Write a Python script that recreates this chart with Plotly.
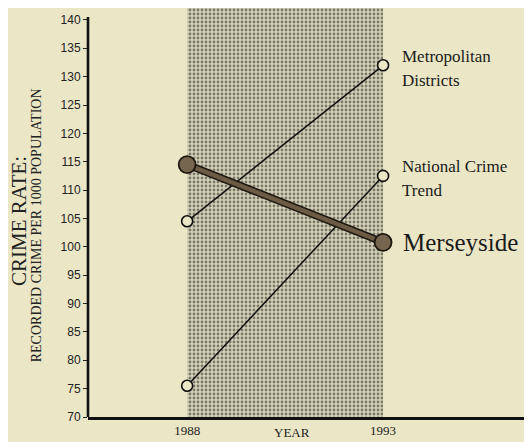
import plotly.graph_objects as go

# ---- data ----
years = [1988, 1993]
metropolitan = [104.5, 132.0]
national = [75.5, 112.5]
merseyside = [114.5, 100.8]
y_ticks = list(range(70, 141, 5))
x_tick_labels = ["1988", "1993"]

BG = "#ebe7c6"
SERIF = "Liberation Serif, Times New Roman, serif"
SANS = "Liberation Sans, Arial, sans-serif"

Y_MIN, Y_MAX = 70, 142.1
X_MIN, X_MAX = 1985.47, 1996.8

fig = go.Figure()

# shaded period band
fig.add_trace(go.Scatter(
    x=[years[0], years[1], years[1], years[0], years[0]],
    y=[Y_MIN, Y_MIN, Y_MAX, Y_MAX, Y_MIN],
    mode="lines", fill="toself", line=dict(width=0),
    fillcolor="#c4c0a8",
    fillpattern=dict(shape=".", size=4, solidity=0.4,
                     fgcolor="#7a7869", bgcolor="#d6d2b9", fillmode="replace"),
    hoverinfo="skip", showlegend=False))

thin = dict(color="#111111", width=1.5)
hollow = dict(size=11, color=BG, line=dict(color="#111111", width=1.6))

fig.add_trace(go.Scatter(x=years, y=metropolitan, mode="lines+markers",
                         line=thin, marker=hollow, showlegend=False,
                         name="Metropolitan Districts"))
fig.add_trace(go.Scatter(x=years, y=national, mode="lines+markers",
                         line=thin, marker=hollow, showlegend=False,
                         name="National Crime Trend"))
# Merseyside: dark outline under a taupe line
fig.add_trace(go.Scatter(x=years, y=merseyside, mode="lines",
                         line=dict(color="#1e1810", width=7.5),
                         showlegend=False, hoverinfo="skip"))
fig.add_trace(go.Scatter(x=years, y=merseyside, mode="lines+markers",
                         line=dict(color="#6c5c46", width=4.5),
                         marker=dict(size=17, color="#76664f",
                                     line=dict(color="#1e1810", width=1.8)),
                         showlegend=False, name="Merseyside"))

# y axis line
fig.add_shape(type="line", xref="paper", yref="y", x0=0, x1=0,
              y0=Y_MIN, y1=140.5, line=dict(color="#111111", width=2.6))

ann = []
lab_font = dict(family=SERIF, size=17, color="#1a1a1a")
ann += [
    dict(x=years[1], y=metropolitan[1], text="Metropolitan", xshift=17, yshift=9),
    dict(x=years[1], y=metropolitan[1], text="Districts", xshift=17, yshift=-15),
    dict(x=years[1], y=national[1], text="National Crime", xshift=17, yshift=9),
    dict(x=years[1], y=national[1], text="Trend", xshift=17, yshift=-15),
]
for a in ann:
    a.update(xref="x", yref="y", xanchor="left", yanchor="middle",
             showarrow=False, font=lab_font)
ann.append(dict(x=years[1], y=merseyside[1], xref="x", yref="y", text="Merseyside",
                xshift=18, yshift=0, xanchor="left", yanchor="middle",
                showarrow=False, font=dict(family=SERIF, size=25, color="#1a1a1a")))
# axis titles
ann.append(dict(x=-0.157, y=0.48, xref="paper", yref="paper", text="CRIME RATE:",
                textangle=-90, showarrow=False, xanchor="center", yanchor="middle",
                font=dict(family=SERIF, size=21, color="#222222")))
ann.append(dict(x=-0.116, y=0.47, xref="paper", yref="paper",
                text="RECORDED CRIME PER 1000 POPULATION",
                textangle=-90, showarrow=False, xanchor="center", yanchor="middle",
                font=dict(family=SERIF, size=14, color="#222222")))
ann.append(dict(x=0.459, y=-0.037, xref="paper", yref="paper", text="YEAR",
                showarrow=False, xanchor="center", yanchor="middle",
                font=dict(family=SERIF, size=13, color="#222222")))

# page body has an 8px margin, so the figure is 8px smaller and shifted
fig.update_layout(
    width=524, height=434,
    margin=dict(l=80, r=0, t=0, b=25, pad=0),
    paper_bgcolor=BG, plot_bgcolor=BG,
    annotations=ann,
    xaxis=dict(range=[X_MIN, X_MAX], showgrid=False, zeroline=False,
               showline=True, linecolor="#111111", linewidth=2.6,
               tickvals=years, ticktext=x_tick_labels, ticks="",
               tickfont=dict(family=SERIF, size=13, color="#222222"),
               fixedrange=True),
    yaxis=dict(range=[Y_MIN, Y_MAX], showgrid=False, zeroline=False,
               showline=False, tickvals=y_ticks, ticks="outside",
               ticklen=4, tickwidth=1, tickcolor="#222222",
               tickfont=dict(family=SANS, size=12, color="#222222"),
               fixedrange=True),
)

fig.write_html("out.html")
